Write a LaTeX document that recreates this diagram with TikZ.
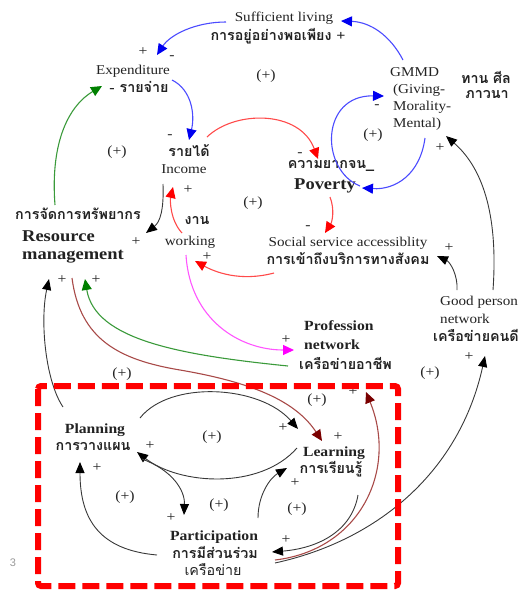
\documentclass[tikz,border=0pt]{standalone}
\usepackage{fontspec}
\setmainfont{Liberation Serif}[FakeStretch=1.12]
\newfontfamily\thaifont[Script=Thai]{Loma}
\newfontfamily\sansf{Liberation Sans}
\usetikzlibrary{arrows.meta}
\definecolor{lblue}{HTML}{4B4BFF}
\definecolor{dblue}{HTML}{0000F0}
\definecolor{lred}{HTML}{FF4A4A}
\definecolor{dred}{HTML}{FF0000}
\definecolor{lgreen}{HTML}{3A9A3A}
\definecolor{dgreen}{HTML}{008000}
\definecolor{mag}{HTML}{FF55FF}
\definecolor{dmag}{HTML}{FF00FF}
\definecolor{brownl}{HTML}{A84A48}
\definecolor{brownd}{HTML}{7A0000}
\definecolor{ink}{HTML}{222222}
\tikzset{
  txt/.style={inner sep=0pt, text height=9pt, text depth=2.5pt, font=\fontsize{13.5}{16}\selectfont, text=ink},
  th/.style={txt, font=\fontsize{14.3}{16}\thaifont\bfseries},
  thl/.style={txt, font=\fontsize{14.3}{16}\thaifont},
  bfs/.style={txt, font=\fontsize{14}{16}\selectfont\bfseries},
  bfbig/.style={txt, font=\fontsize{16.5}{19}\selectfont\bfseries},
  sgn/.style={inner sep=0pt, font=\fontsize{14}{16}\selectfont, text=ink},
  lp/.style={inner sep=0pt, font=\fontsize{14}{16}\selectfont, text=ink},
  con/.style={line width=1.1pt},
  bluearr/.style={con, draw=lblue, -{Triangle[length=11pt,width=10pt,color=dblue]}},
  redarr/.style={con, draw=lred, -{Triangle[length=11pt,width=10pt,color=dred]}},
  greenarr/.style={con, draw=lgreen, -{Triangle[length=11pt,width=10pt,color=dgreen]}},
  magarr/.style={con, draw=mag, -{Triangle[length=11pt,width=10pt,color=dmag]}},
  brownarr/.style={con, draw=brownl, -{Triangle[length=11pt,width=10pt,color=brownd]}},
  blackarr/.style={line width=0.9pt, draw=ink!90, -{Triangle[length=11pt,width=9pt,color=black]}},
}
\begin{document}
\begin{tikzpicture}[x=1pt,y=-1pt]
\useasboundingbox (0,0) rectangle (529,592);

% ---- texts ----
\node[txt] (suff1) at (284,18) {Sufficient living};
\node[th]  (suff2) at (278,37) {การอยู่อย่างพอเพียง {\rmfamily\bfseries +}};
\node[txt] (exp1) at (133,71) {Expenditure};
\node[th]  (exp2) at (139,89) {{\rmfamily -} รายจ่าย};
\node[th]  (inc1) at (189,153) {รายได้};
\node[txt] (inc2) at (184,170) {Income};
\node[th]  (pov1) at (331,165) {ความยากจน\_};
\node[bfbig] (pov2) at (325,186) {Poverty};
\node[txt] (soc1) at (348,243) {Social service accessiblity};
\node[th]  (soc2) at (348,261) {การเข้าถึงบริการทางสังคม};
\node[th]  (work1) at (197,221) {งาน};
\node[txt] (work2) at (190,242) {working};
\node[th]  (res1) at (78,216) {การจัดการทรัพยากร};
\node[bfbig, anchor=west] (res2) at (22,238) {Resource};
\node[bfbig, anchor=west] (res3) at (22,256) {management};
\node[txt, anchor=west] (gm1) at (390,73) {GMMD};
\node[txt, anchor=west] (gm2) at (393,90) {(Giving-};
\node[txt, anchor=west] (gm3) at (393,107) {Morality-};
\node[txt, anchor=west] (gm4) at (393,124) {Mental)};
\node[th]  (gmth1) at (486,80) {ทาน ศีล};
\node[th]  (gmth2) at (487,95) {ภาวนา};
\node[txt, anchor=west] (good1) at (440,302) {Good person};
\node[txt, anchor=west] (good2) at (440,320) {network};
\node[th, anchor=west]  (good3) at (433,338) {เครือข่ายคนดี};
\node[bfs, anchor=west] (prof1) at (304,327) {Profession};
\node[bfs, anchor=west] (prof2) at (304,346) {network};
\node[th, anchor=west]  (prof3) at (299,366) {เครือข่ายอาชีพ};
\node[bfs] (plan1) at (95,430) {Planning};
\node[th]  (plan2) at (93,447) {การวางแผน};
\node[bfs] (learn1) at (334,453) {Learning};
\node[th]  (learn2) at (331,470) {การเรียนรู้};
\node[bfs] (part1) at (214,537) {Participation};
\node[th]  (part2) at (215,555) {การมีส่วนร่วม};
\node[thl] (part3) at (213,572) {เครือข่าย};
\node[inner sep=0pt, font=\fontsize{11}{13}\sansf, text=black!40] (pg) at (13,563) {3};

% ---- loop markers ----
\node[lp] (l1) at (117,152) {(+)};
\node[lp] (l2) at (266,76) {(+)};
\node[lp] (l3) at (253,203) {(+)};
\node[lp] (l4) at (373,135) {(+)};
\node[lp] (l5) at (122,374) {(+)};
\node[lp] (l6) at (430,373) {(+)};
\node[lp] (l7) at (212,437) {(+)};
\node[lp] (l8) at (125,497) {(+)};
\node[lp] (l9) at (219,505) {(+)};
\node[lp] (l10) at (297,509) {(+)};
\node[lp] (l11) at (317,400) {(+)};

% ---- signs ----
\node[sgn] (s1) at (143,52) {+};
\node[sgn] (s2) at (172,58) {-};
\node[sgn] (s3) at (170,137) {-};
\node[sgn] (s4) at (188,190) {+};
\node[sgn] (s5) at (300,155) {-};
\node[sgn] (s6) at (308,228) {-};
\node[sgn] (s7) at (207,257) {+};
\node[sgn] (s8) at (136,242) {+};
\node[sgn] (s9) at (377,107) {-};
\node[sgn] (s10) at (440,148) {+};
\node[sgn] (s11) at (449,248) {+};
\node[sgn] (s12) at (469,357) {+};
\node[sgn] (s13) at (286,340) {+};
\node[sgn] (s14) at (62,280) {+};
\node[sgn] (s15) at (96,280) {+};
\node[sgn] (s16) at (150,446) {+};
\node[sgn] (s17) at (97,468) {+};
\node[sgn] (s18) at (171,518) {+};
\node[sgn] (s19) at (283,428) {+};
\node[sgn] (s20) at (338,437) {+};
\node[sgn] (s21) at (295,483) {+};
\node[sgn] (s22) at (286,540) {+};
\node[sgn] (s23) at (353,392) {+};

% ---- connector end points ----
\coordinate (a1s) at (226,22);  \coordinate (a1e) at (157,55);
\coordinate (a2s) at (172,80);  \coordinate (a2e) at (189,140);
\coordinate (a3s) at (403,60);  \coordinate (a3e) at (341,21);
\coordinate (a4s) at (425,138); \coordinate (a4e) at (362,188);
\coordinate (a5s) at (360,186); \coordinate (a5e) at (384,96);
\coordinate (a6s) at (207,137); \coordinate (a6e) at (318,159);
\coordinate (a7s) at (330,197); \coordinate (a7e) at (325,233);
\coordinate (a8s) at (274,273); \coordinate (a8e) at (195,261);
\coordinate (a9s) at (182,233); \coordinate (a9e) at (173,187);
\coordinate (a10s) at (163,184); \coordinate (a10e) at (146,233);
\coordinate (a11s) at (55,205); \coordinate (a11e) at (102,86);
\coordinate (a12s) at (493,290); \coordinate (a12e) at (446,136);
\coordinate (a13s) at (457,290); \coordinate (a13e) at (437,256);
\coordinate (a14s) at (275,563); \coordinate (a14e) at (485,356);
\coordinate (a15s) at (358,495); \coordinate (a15e) at (272,552);
\coordinate (a16s) at (275,560); \coordinate (a16e) at (366,392);
\coordinate (a17s) at (72,278); \coordinate (a17m) at (180,370); \coordinate (a17e) at (322,441);
\coordinate (a18s) at (288,366); \coordinate (a18e) at (85,279);
\coordinate (a19s) at (186,255); \coordinate (a19e) at (294,350);
\coordinate (a20s) at (63,407); \coordinate (a20e) at (49,279);
\coordinate (a21s) at (140,418); \coordinate (a21e) at (298,429);
\coordinate (a22s) at (297,448); \coordinate (a22e) at (137,452);
\coordinate (a23s) at (142,459); \coordinate (a23e) at (184,515);
\coordinate (a24s) at (157,555); \coordinate (a24e) at (80,462);
\coordinate (a25s) at (258,518); \coordinate (a25e) at (287,468);

% ---- connectors ----
\draw[bluearr] (a1s) .. controls (195,22) and (170,35) .. (a1e);
\draw[bluearr] (a2s) .. controls (192,90) and (195,115) .. (a2e);
\draw[bluearr] (a3s) .. controls (390,35) and (370,22) .. (a3e);
\draw[bluearr] (a4s) .. controls (420,175) and (395,190) .. (a4e);
\draw[bluearr] (a5s) .. controls (320,170) and (320,95) .. (a5e);
\draw[redarr] (a6s) .. controls (235,110) and (300,110) .. (a6e);
\draw[redarr] (a7s) .. controls (335,210) and (332,222) .. (a7e);
\draw[redarr] (a8s) .. controls (240,282) and (215,272) .. (a8e);
\draw[redarr] (a9s) .. controls (170,220) and (170,200) .. (a9e);
\draw[blackarr] (a10s) .. controls (164,210) and (160,222) .. (a10e);
\draw[greenarr] (a11s) .. controls (50,140) and (70,105) .. (a11e);
\draw[blackarr] (a12s) .. controls (498,220) and (485,170) .. (a12e);
\draw[blackarr] (a13s) .. controls (458,275) and (450,262) .. (a13e);
\draw[blackarr] (a14s) .. controls (380,540) and (460,470) .. (a14e);
\draw[blackarr] (a15s) .. controls (352,530) and (320,548) .. (a15e);
\draw[brownarr] (a16s) .. controls (360,550) and (398,470) .. (a16e);
\draw[brownarr] (a17s) .. controls (80,340) and (120,360) .. (a17m) .. controls (250,382) and (295,400) .. (a17e);
\draw[greenarr] (a18s) .. controls (180,355) and (95,340) .. (a18e);
\draw[magarr] (a19s) .. controls (190,320) and (240,350) .. (a19e);
\draw[blackarr] (a20s) .. controls (45,380) and (40,320) .. (a20e);
\draw[blackarr] (a21s) .. controls (170,380) and (260,385) .. (a21e);
\draw[blackarr] (a22s) .. controls (260,490) and (180,485) .. (a22e);
\draw[blackarr] (a23s) .. controls (172,470) and (185,490) .. (a23e);
\draw[blackarr] (a24s) .. controls (100,550) and (80,520) .. (a24e);
\draw[blackarr] (a25s) .. controls (258,495) and (270,478) .. (a25e);

% ---- dashed frame ----
\draw[dred, line width=6pt, dash pattern=on 17pt off 7pt, rounded corners=3pt] (38,386) rectangle (398,586);
\end{tikzpicture}
\end{document}
